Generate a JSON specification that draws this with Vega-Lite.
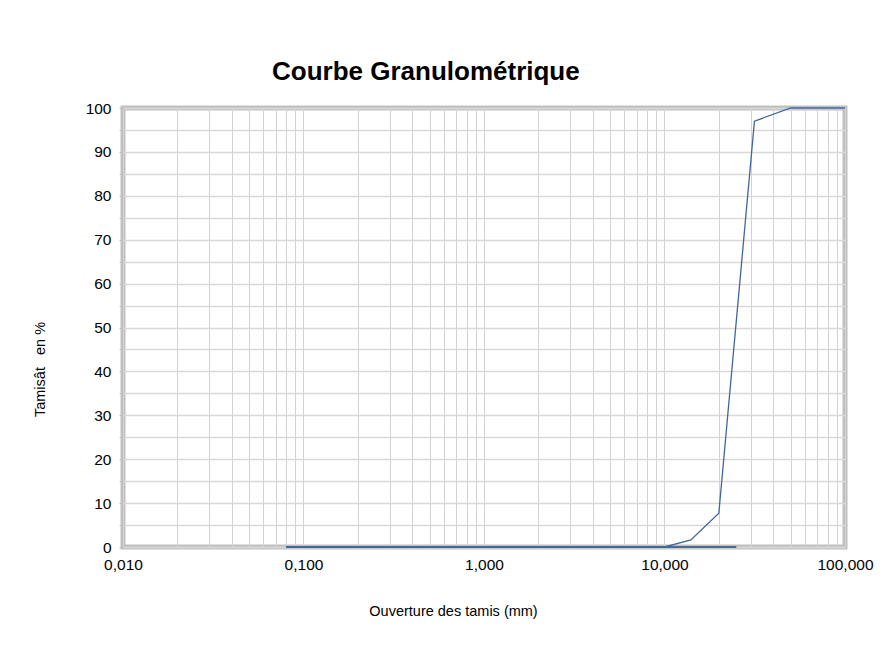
{
  "$schema": "https://vega.github.io/schema/vega-lite/v6.json",
  "width": 722,
  "height": 439,
  "autosize": {"type": "none"},
  "padding": {"left": 123, "top": 108, "right": 46, "bottom": 118},
  "background": "white",
  "config": {
    "font": "Liberation Sans",
    "view": {"stroke": "#c0c0c0", "strokeWidth": 5},
    "axis": {"labelFont": "Liberation Sans", "titleFont": "Liberation Sans", "labelColor": "#000000", "titleColor": "#000000"}
  },
  "title": {
    "text": "Courbe Granulométrique",
    "font": "Liberation Sans",
    "fontSize": 26,
    "fontWeight": "bold",
    "color": "#000000",
    "anchor": "start",
    "frame": "group",
    "dx": 149,
    "offset": 16
  },
  "data": {
    "values": [
      {"serie": "courbe", "d": 0.08, "p": 0},
      {"serie": "courbe", "d": 0.1, "p": 0},
      {"serie": "courbe", "d": 0.2, "p": 0},
      {"serie": "courbe", "d": 0.5, "p": 0},
      {"serie": "courbe", "d": 1, "p": 0},
      {"serie": "courbe", "d": 2, "p": 0},
      {"serie": "courbe", "d": 5, "p": 0},
      {"serie": "courbe", "d": 10, "p": 0},
      {"serie": "courbe", "d": 14, "p": 1.6},
      {"serie": "courbe", "d": 20, "p": 7.7},
      {"serie": "courbe", "d": 31.5, "p": 97},
      {"serie": "courbe", "d": 50, "p": 100},
      {"serie": "courbe", "d": 100, "p": 100},
      {"serie": "base", "d": 0.08, "p": 0},
      {"serie": "base", "d": 25, "p": 0}
    ]
  },
  "encoding": {
    "x": {
      "field": "d",
      "type": "quantitative",
      "scale": {"type": "log", "domain": [0.01, 100], "nice": false},
      "axis": {
        "title": "Ouverture des tamis (mm)",
        "titleFontSize": 14.5,
        "titleFontWeight": "normal",
        "titleX": 330,
        "titleY": 68,
        "titleBaseline": "alphabetic",
        "values": [0.01,0.02,0.03,0.04,0.05,0.06,0.07,0.08,0.09,0.1,0.2,0.3,0.4,0.5,0.6,0.7,0.8,0.9,1,2,3,4,5,6,7,8,9,10,20,30,40,50,60,70,80,90,100],
        "labelExpr": "(datum.value == 0.01 || datum.value == 0.1 || datum.value == 1 || datum.value == 10 || datum.value == 100) ? replace(format(datum.value, ',.3f'), '.', ',') : ''",
        "labelFontSize": 15.5,
        "labelPadding": 10,
        "labelFlush": false,
        "labelOverlap": false,
        "grid": true,
        "gridColor": "#d2d2d2",
        "gridWidth": 1,
        "ticks": false,
        "domain": false
      }
    },
    "y": {
      "field": "p",
      "type": "quantitative",
      "scale": {"domain": [0, 100], "nice": false},
      "axis": {
        "title": "Tamisât\u00a0\u00a0 en %",
        "titleFontSize": 14.5,
        "titleFontWeight": "normal",
        "titleX": -83,
        "titleY": 261,
        "titleAngle": -90,
        "titleAlign": "center",
        "titleBaseline": "middle",
        "values": [0,5,10,15,20,25,30,35,40,45,50,55,60,65,70,75,80,85,90,95,100],
        "labelExpr": "datum.value % 10 === 0 ? datum.label : ''",
        "labelFontSize": 15.5,
        "labelPadding": 8,
        "labelOverlap": false,
        "grid": true,
        "gridColor": "#d9d9d9",
        "gridWidth": 1.5,
        "ticks": true,
        "tickSize": 4,
        "tickColor": "#c0c0c0",
        "domain": false
      }
    }
  },
  "layer": [
    {
      "transform": [{"filter": "datum.serie === 'base'"}],
      "mark": {"type": "line", "color": "#4e6a8c", "strokeWidth": 2.2, "clip": false}
    },
    {
      "transform": [{"filter": "datum.serie === 'courbe'"}],
      "mark": {"type": "line", "color": "#3f679c", "strokeWidth": 1.3, "clip": false}
    }
  ]
}
